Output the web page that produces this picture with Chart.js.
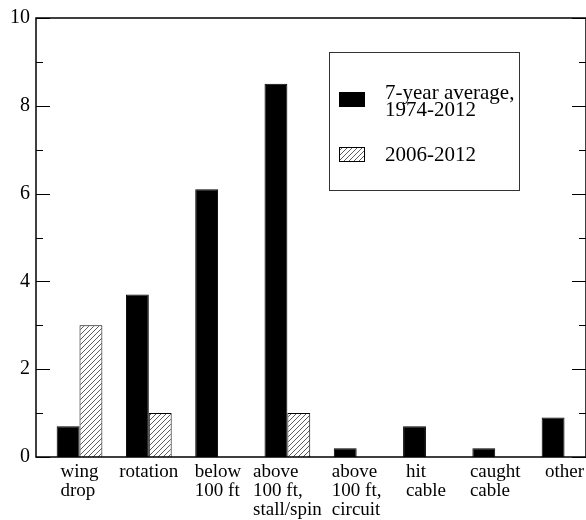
<!DOCTYPE html>
<html>
<head>
<meta charset="utf-8">
<script src="https://cdn.jsdelivr.net/npm/chart.js@4/dist/chart.umd.min.js"></script>
<style>
  html, body { margin: 0; padding: 0; background: #fff; }
  canvas { display: block; }
</style>
</head>
<body>
<canvas id="chart" width="586" height="520"></canvas>
<script>
// Accident categories (multi-line labels under the x axis)
const categories = [
  ['wing', 'drop'],
  ['rotation'],
  ['below', '100 ft'],
  ['above', '100 ft,', 'stall/spin'],
  ['above', '100 ft,', 'circuit'],
  ['hit', 'cable'],
  ['caught', 'cable'],
  ['other']
];
// Accidents per year, long-term average
const averageCounts = [0.7, 3.7, 6.1, 8.5, 0.2, 0.7, 0.2, 0.9];
// Accidents 2006-2012
const recentCounts = [3, 1, 0, 1, 0, 0, 0, 0];
// Legend names, one entry per series (each a list of lines)
const seriesNames = [['7-year average,', '1974-2012'], ['2006-2012']];
// Labelled y ticks
const yTickValues = [0, 2, 4, 6, 8, 10];

const SERIF = '"Liberation Serif", "Times New Roman", serif';

// Diagonal hatch fill for the second series
function makeHatch() {
  const s = 5;
  const c = document.createElement('canvas');
  c.width = s; c.height = s;
  const g = c.getContext('2d');
  g.fillStyle = '#fff';
  g.fillRect(0, 0, s, s);
  g.strokeStyle = '#333';
  g.lineWidth = 0.8;
  g.beginPath();
  g.moveTo(0, s); g.lineTo(s, 0);
  g.moveTo(-1, 1); g.lineTo(1, -1);
  g.moveTo(s - 1, s + 1); g.lineTo(s + 1, s - 1);
  g.stroke();
  return g.createPattern(c, 'repeat');
}
const hatch = makeHatch();

const toPoints = vals => vals.map((v, i) => ({ x: i + 1, y: v }));

// Frame with inward ticks on both sides, category labels and the boxed legend
const framePlugin = {
  id: 'frame',
  afterDatasetsDraw(chart) {
    const { ctx, chartArea: a, scales: { x, y } } = chart;
    ctx.save();
    ctx.strokeStyle = '#000';
    ctx.lineWidth = 1.5;
    ctx.beginPath();
    ctx.moveTo(a.left, a.bottom);
    ctx.lineTo(a.left, a.top);
    ctx.lineTo(a.right, a.top);
    ctx.lineTo(a.right, a.bottom);
    ctx.closePath();
    ctx.stroke();

    ctx.lineWidth = 1;
    ctx.beginPath();
    for (let v = y.min; v <= y.max; v++) {
      const py = Math.round(y.getPixelForValue(v)) + 0.5;
      const len = yTickValues.includes(v) ? 14 : 7;
      ctx.moveTo(a.left, py); ctx.lineTo(a.left + len, py);
      ctx.moveTo(a.right, py); ctx.lineTo(a.right - len, py);
    }
    ctx.stroke();

    // category labels: block centred on the tick, lines left-aligned
    ctx.fillStyle = '#000';
    ctx.font = '19px ' + SERIF;
    ctx.textAlign = 'left';
    ctx.textBaseline = 'alphabetic';
    categories.forEach((lines, i) => {
      const cx = x.getPixelForValue(i + 1);
      const w = Math.max(...lines.map(t => ctx.measureText(t).width));
      lines.forEach((t, k) => ctx.fillText(t, cx - w / 2, a.bottom + 20 + k * 18.8));
    });

    // legend
    ctx.lineWidth = 1;
    ctx.strokeStyle = '#333';
    ctx.strokeRect(329.5, 52.5, 190, 138);
    const fills = chart.data.datasets.map(d => d.backgroundColor);
    ctx.strokeStyle = '#000';
    ctx.fillStyle = fills[0];
    ctx.fillRect(339.5, 92.5, 25, 14);
    ctx.strokeRect(339.5, 92.5, 25, 14);
    ctx.fillStyle = fills[1];
    ctx.fillRect(339.5, 147.5, 25, 14);
    ctx.strokeRect(339.5, 147.5, 25, 14);
    ctx.fillStyle = '#000';
    ctx.font = '21px ' + SERIF;
    seriesNames[0].forEach((t, k) => ctx.fillText(t, 385, 98.5 + k * 17.7));
    seriesNames[1].forEach((t, k) => ctx.fillText(t, 385, 161 + k * 17.7));
    ctx.restore();
  }
};

new Chart(document.getElementById('chart'), {
  type: 'bar',
  data: {
    datasets: [
      {
        label: seriesNames[0].join(' '),
        data: toPoints(averageCounts),
        backgroundColor: '#000',
        borderColor: '#000',
        borderWidth: 1,
        borderSkipped: 'bottom'
      },
      {
        label: seriesNames[1].join(' '),
        data: toPoints(recentCounts),
        backgroundColor: hatch,
        borderColor: '#000',
        borderWidth: 1,
        borderSkipped: 'bottom'
      }
    ]
  },
  plugins: [framePlugin],
  options: {
    responsive: false,
    animation: false,
    devicePixelRatio: 1,
    layout: { padding: { top: 15, right: -1, left: 0, bottom: 0 } },
    datasets: { bar: { categoryPercentage: 0.66, barPercentage: 1 } },
    plugins: { legend: { display: false }, tooltip: { enabled: false } },
    scales: {
      x: {
        type: 'linear',
        offset: false,
        min: 0.372,
        max: 8.31,
        grid: { display: false, drawTicks: false, offset: false },
        border: { display: false },
        ticks: { display: false },
        afterFit(scale) { scale.height = 63; }
      },
      y: {
        type: 'linear',
        min: 0,
        max: 10,
        grid: { display: false, drawTicks: false },
        border: { display: false },
        afterBuildTicks(scale) { scale.ticks = yTickValues.map(v => ({ value: v })); },
        ticks: {
          color: '#000',
          padding: 6,
          font: { family: SERIF, size: 20 }
        },
        afterFit(scale) { scale.width = 36; }
      }
    }
  }
});
</script>
</body>
</html>
